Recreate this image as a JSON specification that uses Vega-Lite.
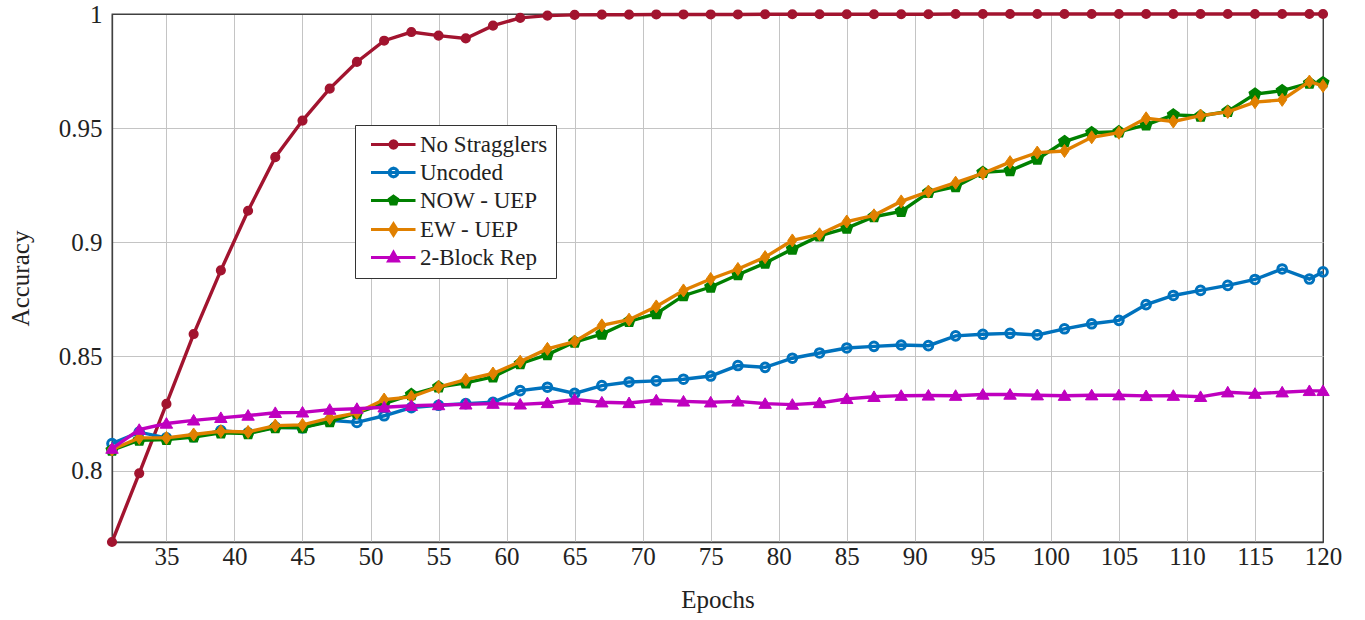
{
"$schema": "https://vega.github.io/schema/vega-lite/v6.json",
"width": 1211, "height": 528,
"autosize": {"type": "none"},
"padding": {"left": 112, "top": 14, "right": 42, "bottom": 78},
"background": "white",
"config": {
  "view": {"stroke": "#404040", "strokeWidth": 1.3},
  "font": "'Liberation Serif', 'DejaVu Serif', 'Noto Serif', 'FreeSerif', serif"
},
"data": {"values": [
{"e":31,"ns":0.7687,"un":0.8118,"now":0.8089,"ew":0.8092,"rep":0.8096},
{"e":33,"ns":0.7988,"un":0.8168,"now":0.8133,"ew":0.8143,"rep":0.8179},
{"e":35,"ns":0.8292,"un":0.8143,"now":0.8136,"ew":0.8143,"rep":0.8206},
{"e":37,"ns":0.8598,"un":0.8148,"now":0.8147,"ew":0.8158,"rep":0.8220},
{"e":39,"ns":0.8877,"un":0.8175,"now":0.8165,"ew":0.8172,"rep":0.8231},
{"e":41,"ns":0.9138,"un":0.8165,"now":0.8162,"ew":0.8169,"rep":0.8241},
{"e":43,"ns":0.9373,"un":0.8190,"now":0.8188,"ew":0.8197,"rep":0.8253},
{"e":45,"ns":0.9533,"un":0.8187,"now":0.8188,"ew":0.8200,"rep":0.8255},
{"e":47,"ns":0.9673,"un":0.8220,"now":0.8214,"ew":0.8230,"rep":0.8267},
{"e":49,"ns":0.9790,"un":0.8211,"now":0.8253,"ew":0.8253,"rep":0.8271},
{"e":51,"ns":0.9883,"un":0.8240,"now":0.8293,"ew":0.8311,"rep":0.8277},
{"e":53,"ns":0.9921,"un":0.8276,"now":0.8333,"ew":0.8323,"rep":0.8284},
{"e":55,"ns":0.9905,"un":0.8286,"now":0.8366,"ew":0.8366,"rep":0.8287},
{"e":57,"ns":0.9893,"un":0.8293,"now":0.8384,"ew":0.8398,"rep":0.8290},
{"e":59,"ns":0.9949,"un":0.8299,"now":0.8410,"ew":0.8425,"rep":0.8293},
{"e":61,"ns":0.9983,"un":0.8350,"now":0.8468,"ew":0.8477,"rep":0.8290},
{"e":63,"ns":0.9993,"un":0.8365,"now":0.8508,"ew":0.8533,"rep":0.8296},
{"e":65,"ns":0.9996,"un":0.8338,"now":0.8563,"ew":0.8565,"rep":0.8311},
{"e":67,"ns":0.9997,"un":0.8372,"now":0.8598,"ew":0.8636,"rep":0.8299},
{"e":69,"ns":0.9997,"un":0.8388,"now":0.8653,"ew":0.8661,"rep":0.8296},
{"e":71,"ns":0.9998,"un":0.8393,"now":0.8687,"ew":0.8719,"rep":0.8308},
{"e":73,"ns":0.9998,"un":0.8400,"now":0.8766,"ew":0.8789,"rep":0.8303},
{"e":75,"ns":0.9998,"un":0.8414,"now":0.8804,"ew":0.8839,"rep":0.8299},
{"e":77,"ns":0.9998,"un":0.8460,"now":0.8858,"ew":0.8883,"rep":0.8303},
{"e":79,"ns":0.9999,"un":0.8452,"now":0.8909,"ew":0.8935,"rep":0.8293},
{"e":81,"ns":0.9999,"un":0.8492,"now":0.8970,"ew":0.9008,"rep":0.8289},
{"e":83,"ns":0.9999,"un":0.8515,"now":0.9028,"ew":0.9035,"rep":0.8296},
{"e":85,"ns":0.9999,"un":0.8537,"now":0.9062,"ew":0.9091,"rep":0.8314},
{"e":87,"ns":0.9999,"un":0.8544,"now":0.9112,"ew":0.9118,"rep":0.8323},
{"e":89,"ns":0.9999,"un":0.8550,"now":0.9135,"ew":0.9179,"rep":0.8328},
{"e":91,"ns":0.9999,"un":0.8547,"now":0.9218,"ew":0.9222,"rep":0.8329},
{"e":93,"ns":1.0,"un":0.8590,"now":0.9244,"ew":0.9261,"rep":0.8328},
{"e":95,"ns":1.0,"un":0.8597,"now":0.9306,"ew":0.9302,"rep":0.8333},
{"e":97,"ns":1.0,"un":0.8601,"now":0.9314,"ew":0.9351,"rep":0.8333},
{"e":99,"ns":1.0,"un":0.8594,"now":0.9364,"ew":0.9393,"rep":0.8330},
{"e":101,"ns":1.0,"un":0.8621,"now":0.9441,"ew":0.9400,"rep":0.8328},
{"e":103,"ns":1.0,"un":0.8643,"now":0.9480,"ew":0.9460,"rep":0.8330},
{"e":105,"ns":1.0,"un":0.8658,"now":0.9484,"ew":0.9480,"rep":0.8330},
{"e":107,"ns":1.0,"un":0.8727,"now":0.9514,"ew":0.9543,"rep":0.8327},
{"e":109,"ns":1.0,"un":0.8767,"now":0.9558,"ew":0.9529,"rep":0.8328},
{"e":111,"ns":1.0,"un":0.8789,"now":0.9553,"ew":0.9555,"rep":0.8323},
{"e":113,"ns":1.0,"un":0.8811,"now":0.9573,"ew":0.9571,"rep":0.8343},
{"e":115,"ns":1.0,"un":0.8837,"now":0.9649,"ew":0.9614,"rep":0.8337},
{"e":117,"ns":1.0,"un":0.8883,"now":0.9664,"ew":0.9624,"rep":0.8343},
{"e":119,"ns":1.0,"un":0.8839,"now":0.9697,"ew":0.9704,"rep":0.8349},
{"e":120,"ns":1.0,"un":0.8870,"now":0.9699,"ew":0.9685,"rep":0.8349}
]},
"transform": [{"fold": ["ns","un","now","ew","rep"], "as": ["s","a"]}],
"encoding": {
  "x": {"field": "e", "type": "quantitative",
    "scale": {"domain": [31, 120], "nice": false, "zero": false},
    "axis": {"values": [35,40,45,50,55,60,65,70,75,80,85,90,95,100,105,110,115,120],
      "title": "Epochs", "labelFontSize": 25, "titleFontSize": 25, "titleFontWeight": "normal",
      "labelColor": "#222222", "titleColor": "#222222",
      "labelPadding": 2, "titlePadding": 18, "ticks": false, "labelFlush": false, "labelOverlap": false,
      "domain": true, "domainColor": "#404040", "domainWidth": 1.3,
      "grid": true, "gridWidth": 1,
      "gridColor": {"condition": {"test": "datum.value === 120", "value": "#404040"}, "value": "#c4c4c4"}}},
  "y": {"field": "a", "type": "quantitative",
    "scale": {"domain": [0.7687, 1], "nice": false, "zero": false},
    "axis": {"values": [0.8, 0.85, 0.9, 0.95, 1], "format": "~g",
      "title": "Accuracy", "labelFontSize": 25, "titleFontSize": 25, "titleFontWeight": "normal",
      "labelColor": "#222222", "titleColor": "#222222",
      "labelPadding": 10, "titlePadding": 25, "ticks": false, "labelOverlap": false,
      "domain": true, "domainColor": "#404040", "domainWidth": 1.3,
      "grid": true, "gridWidth": 1,
      "gridColor": {"condition": {"test": "datum.value === 1", "value": "#404040"}, "value": "#c4c4c4"}}}
},
"layer": [
  {"transform": [{"filter": {"field": "s", "equal": "ns"}}],
   "mark": {"type": "line", "strokeWidth": 3.4},
   "encoding": {"color": {"datum": "No Stragglers",
     "scale": {"domain": ["No Stragglers","Uncoded","NOW - UEP","EW - UEP","2-Block Rep"],
               "range": ["#A2142F","#0072BD","#008000","#E08000","#BF00BF"]},
     "legend": {"title": null, "orient": "none", "legendX": 243, "legendY": 111,
       "symbolSize": 100, "symbolStrokeWidth": 3.2, "labelOffset": 34, "padding": 8, "rowPadding": 4,
       "strokeColor": "#333333", "fillColor": "white",
       "labelFontSize": 23, "labelColor": "#222222",
       "encode": {"symbols": {"update": {
         "shape": {"signal": "datum.value === 'No Stragglers' ? 'M-0.7,0L8.2,0M4.5,0L4.406,0.35L4.15,0.606L3.8,0.7L3.45,0.606L3.194,0.35L3.1,0L3.194,-0.35L3.45,-0.606L3.8,-0.7L4.15,-0.606L4.406,-0.35Z' : datum.value === 'Uncoded' ? 'M-0.7,0L8.2,0M4.65,0L4.536,0.425L4.225,0.736L3.8,0.85L3.375,0.736L3.064,0.425L2.95,0L3.064,-0.425L3.375,-0.736L3.8,-0.85L4.225,-0.736L4.536,-0.425Z' : datum.value === 'NOW - UEP' ? 'M-0.7,0L8.2,0M3.8,-0.85L4.608,-0.263L4.3,0.688L3.3,0.688L2.992,-0.263Z' : datum.value === 'EW - UEP' ? 'M-0.7,0L8.2,0M3.8,-1.1L4.5,0L3.8,1.1L3.1,0Z' : 'M-0.7,0L8.2,0M3.8,-1L4.75,0.7L2.85,0.7Z'"},
         "fill": {"signal": "datum.value === 'No Stragglers' ? '#A2142F' : datum.value === 'Uncoded' ? 'transparent' : datum.value === 'NOW - UEP' ? '#008000' : datum.value === 'EW - UEP' ? '#E08000' : '#BF00BF'"},
         "opacity": {"value": 1}
       }}}}}}},
  {"transform": [{"filter": {"field": "s", "equal": "ns"}}],
   "mark": {"type": "point", "shape": "circle", "filled": true, "size": 75, "fill": "#A2142F", "stroke": "#A2142F", "strokeWidth": 1.5, "opacity": 1}},
  {"transform": [{"filter": {"field": "s", "equal": "un"}}],
   "mark": {"type": "line", "strokeWidth": 3.4},
   "encoding": {"color": {"datum": "Uncoded"}}},
  {"transform": [{"filter": {"field": "s", "equal": "un"}}],
   "mark": {"type": "point", "shape": "circle", "filled": false, "size": 75, "fill": "transparent", "stroke": "#0072BD", "strokeWidth": 3, "opacity": 1}},
  {"transform": [{"filter": {"field": "s", "equal": "now"}}],
   "mark": {"type": "line", "strokeWidth": 3.4},
   "encoding": {"color": {"datum": "NOW - UEP"}}},
  {"transform": [{"filter": {"field": "s", "equal": "now"}}],
   "mark": {"type": "point", "shape": "M0,-1L0.951,-0.309L0.588,0.809L-0.588,0.809L-0.951,-0.309Z", "filled": true, "size": 130, "fill": "#008000", "stroke": "#008000", "strokeWidth": 2, "opacity": 1}},
  {"transform": [{"filter": {"field": "s", "equal": "ew"}}],
   "mark": {"type": "line", "strokeWidth": 3.4},
   "encoding": {"color": {"datum": "EW - UEP"}}},
  {"transform": [{"filter": {"field": "s", "equal": "ew"}}],
   "mark": {"type": "point", "shape": "M0,-1L0.7,0L0,1L-0.7,0Z", "filled": true, "size": 170, "fill": "#E08000", "stroke": "#E08000", "strokeWidth": 1, "opacity": 1}},
  {"transform": [{"filter": {"field": "s", "equal": "rep"}}],
   "mark": {"type": "line", "strokeWidth": 3.4},
   "encoding": {"color": {"datum": "2-Block Rep"}}},
  {"transform": [{"filter": {"field": "s", "equal": "rep"}}],
   "mark": {"type": "point", "shape": "M0,-0.95L1,0.75L-1,0.75Z", "filled": true, "size": 155, "fill": "#BF00BF", "stroke": "#BF00BF", "strokeWidth": 1, "opacity": 1}}
]
}
